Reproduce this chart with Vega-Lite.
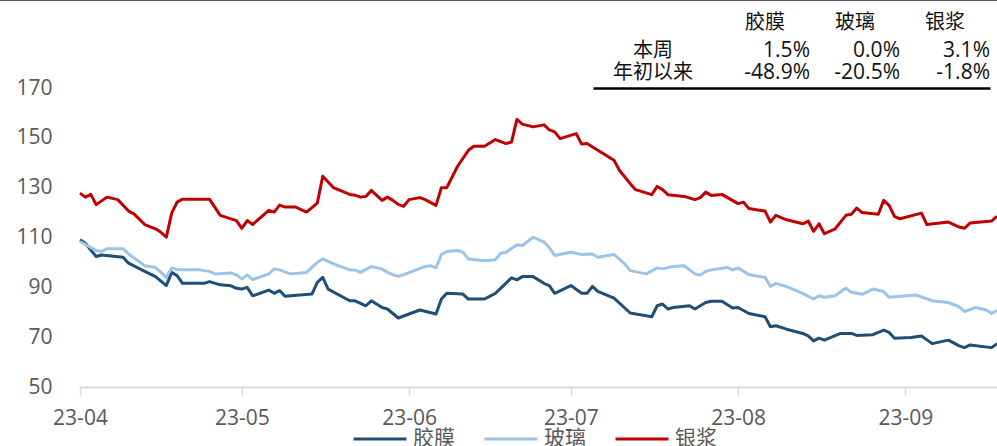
{
  "$schema": "https://vega.github.io/schema/vega-lite/v6.json",
  "width": 917,
  "height": 299,
  "autosize": {"type": "none"},
  "padding": {"left": 80, "top": 88, "right": 0, "bottom": 59},
  "background": "white",
  "config": {"view": {"stroke": null}, "font": "Open Sans, Noto Sans CJK SC"},
  "datasets": {
    "series": [
      {"d":"2023-04-01","s":"胶膜","v":109.1},{"d":"2023-04-02","s":"胶膜","v":107.7},{"d":"2023-04-03","s":"胶膜","v":105.0},{"d":"2023-04-04","s":"胶膜","v":102.4},{"d":"2023-04-05","s":"胶膜","v":103.0},{"d":"2023-04-09","s":"胶膜","v":102.1},{"d":"2023-04-10","s":"胶膜","v":99.7},{"d":"2023-04-13","s":"胶膜","v":96.4},{"d":"2023-04-15","s":"胶膜","v":94.3},{"d":"2023-04-17","s":"胶膜","v":90.7},{"d":"2023-04-18","s":"胶膜","v":96.0},{"d":"2023-04-19","s":"胶膜","v":94.7},{"d":"2023-04-20","s":"胶膜","v":91.6},{"d":"2023-04-24","s":"胶膜","v":91.6},{"d":"2023-04-25","s":"胶膜","v":92.3},{"d":"2023-04-27","s":"胶膜","v":91.0},{"d":"2023-04-29","s":"胶膜","v":90.6},{"d":"2023-04-30","s":"胶膜","v":89.6},
      {"d":"2023-05-01","s":"胶膜","v":89.3},{"d":"2023-05-02","s":"胶膜","v":90.0},{"d":"2023-05-03","s":"胶膜","v":86.6},{"d":"2023-05-06","s":"胶膜","v":88.9},{"d":"2023-05-07","s":"胶膜","v":87.6},{"d":"2023-05-08","s":"胶膜","v":88.7},{"d":"2023-05-09","s":"胶膜","v":86.4},{"d":"2023-05-14","s":"胶膜","v":87.3},{"d":"2023-05-15","s":"胶膜","v":92.0},{"d":"2023-05-16","s":"胶膜","v":94.0},{"d":"2023-05-17","s":"胶膜","v":89.3},{"d":"2023-05-21","s":"胶膜","v":84.6},{"d":"2023-05-22","s":"胶膜","v":84.6},{"d":"2023-05-24","s":"胶膜","v":82.6},{"d":"2023-05-25","s":"胶膜","v":84.6},{"d":"2023-05-27","s":"胶膜","v":81.9},{"d":"2023-05-28","s":"胶膜","v":81.3},{"d":"2023-05-29","s":"胶膜","v":79.5},{"d":"2023-05-30","s":"胶膜","v":77.7},
      {"d":"2023-06-03","s":"胶膜","v":80.9},{"d":"2023-06-06","s":"胶膜","v":79.3},{"d":"2023-06-07","s":"胶膜","v":85.3},{"d":"2023-06-08","s":"胶膜","v":87.6},{"d":"2023-06-11","s":"胶膜","v":87.3},{"d":"2023-06-12","s":"胶膜","v":85.3},{"d":"2023-06-15","s":"胶膜","v":85.3},{"d":"2023-06-17","s":"胶膜","v":87.6},{"d":"2023-06-20","s":"胶膜","v":93.8},{"d":"2023-06-21","s":"胶膜","v":93.0},{"d":"2023-06-22","s":"胶膜","v":94.3},{"d":"2023-06-24","s":"胶膜","v":94.3},{"d":"2023-06-26","s":"胶膜","v":91.6},{"d":"2023-06-27","s":"胶膜","v":90.7},{"d":"2023-06-28","s":"胶膜","v":87.6},
      {"d":"2023-07-01","s":"胶膜","v":90.7},{"d":"2023-07-03","s":"胶膜","v":87.6},{"d":"2023-07-04","s":"胶膜","v":87.6},{"d":"2023-07-05","s":"胶膜","v":90.4},{"d":"2023-07-06","s":"胶膜","v":88.4},{"d":"2023-07-09","s":"胶膜","v":85.7},{"d":"2023-07-11","s":"胶膜","v":81.7},{"d":"2023-07-12","s":"胶膜","v":79.7},{"d":"2023-07-16","s":"胶膜","v":78.2},{"d":"2023-07-17","s":"胶膜","v":82.6},{"d":"2023-07-18","s":"胶膜","v":83.3},{"d":"2023-07-19","s":"胶膜","v":81.3},{"d":"2023-07-20","s":"胶膜","v":81.9},{"d":"2023-07-23","s":"胶膜","v":82.6},{"d":"2023-07-24","s":"胶膜","v":81.3},{"d":"2023-07-25","s":"胶膜","v":82.6},{"d":"2023-07-26","s":"胶膜","v":83.9},{"d":"2023-07-27","s":"胶膜","v":84.4},{"d":"2023-07-29","s":"胶膜","v":84.4},{"d":"2023-07-31","s":"胶膜","v":81.7},
      {"d":"2023-08-01","s":"胶膜","v":81.9},{"d":"2023-08-03","s":"胶膜","v":79.5},{"d":"2023-08-06","s":"胶膜","v":78.2},{"d":"2023-08-07","s":"胶膜","v":74.2},{"d":"2023-08-08","s":"胶膜","v":74.6},{"d":"2023-08-10","s":"胶膜","v":73.2},{"d":"2023-08-13","s":"胶膜","v":71.5},{"d":"2023-08-14","s":"胶膜","v":70.5},{"d":"2023-08-15","s":"胶膜","v":68.5},{"d":"2023-08-16","s":"胶膜","v":69.6},{"d":"2023-08-17","s":"胶膜","v":68.8},{"d":"2023-08-20","s":"胶膜","v":71.5},{"d":"2023-08-22","s":"胶膜","v":71.5},{"d":"2023-08-23","s":"胶膜","v":70.7},{"d":"2023-08-26","s":"胶膜","v":71.0},{"d":"2023-08-28","s":"胶膜","v":72.8},{"d":"2023-08-29","s":"胶膜","v":71.9},{"d":"2023-08-30","s":"胶膜","v":69.6},
      {"d":"2023-09-02","s":"胶膜","v":69.9},{"d":"2023-09-04","s":"胶膜","v":70.5},{"d":"2023-09-06","s":"胶膜","v":67.4},{"d":"2023-09-09","s":"胶膜","v":68.8},{"d":"2023-09-11","s":"胶膜","v":66.5},{"d":"2023-09-12","s":"胶膜","v":65.8},{"d":"2023-09-13","s":"胶膜","v":66.9},{"d":"2023-09-17","s":"胶膜","v":65.8},{"d":"2023-09-18","s":"胶膜","v":67.4},

      {"d":"2023-04-01","s":"玻璃","v":108.4},{"d":"2023-04-02","s":"玻璃","v":107.2},{"d":"2023-04-04","s":"玻璃","v":104.8},{"d":"2023-04-05","s":"玻璃","v":104.4},{"d":"2023-04-06","s":"玻璃","v":105.5},{"d":"2023-04-09","s":"玻璃","v":105.5},{"d":"2023-04-10","s":"玻璃","v":103.4},{"d":"2023-04-13","s":"玻璃","v":98.7},{"d":"2023-04-15","s":"玻璃","v":98.0},{"d":"2023-04-17","s":"玻璃","v":94.0},{"d":"2023-04-18","s":"玻璃","v":97.8},{"d":"2023-04-19","s":"玻璃","v":97.1},{"d":"2023-04-23","s":"玻璃","v":97.1},{"d":"2023-04-24","s":"玻璃","v":96.7},{"d":"2023-04-25","s":"玻璃","v":96.4},{"d":"2023-04-26","s":"玻璃","v":95.4},{"d":"2023-04-29","s":"玻璃","v":95.8},{"d":"2023-04-30","s":"玻璃","v":95.0},
      {"d":"2023-05-01","s":"玻璃","v":93.4},{"d":"2023-05-02","s":"玻璃","v":95.0},{"d":"2023-05-03","s":"玻璃","v":93.1},{"d":"2023-05-06","s":"玻璃","v":95.4},{"d":"2023-05-07","s":"玻璃","v":97.4},{"d":"2023-05-08","s":"玻璃","v":97.0},{"d":"2023-05-10","s":"玻璃","v":95.4},{"d":"2023-05-13","s":"玻璃","v":96.0},{"d":"2023-05-15","s":"玻璃","v":100.0},{"d":"2023-05-16","s":"玻璃","v":101.4},{"d":"2023-05-18","s":"玻璃","v":99.4},{"d":"2023-05-21","s":"玻璃","v":97.0},{"d":"2023-05-22","s":"玻璃","v":97.0},{"d":"2023-05-23","s":"玻璃","v":96.0},{"d":"2023-05-25","s":"玻璃","v":98.3},{"d":"2023-05-27","s":"玻璃","v":97.4},{"d":"2023-05-28","s":"玻璃","v":96.0},{"d":"2023-05-29","s":"玻璃","v":95.1},{"d":"2023-05-30","s":"玻璃","v":94.4},{"d":"2023-05-31","s":"玻璃","v":95.1},
      {"d":"2023-06-04","s":"玻璃","v":98.4},{"d":"2023-06-05","s":"玻璃","v":98.7},{"d":"2023-06-06","s":"玻璃","v":97.8},{"d":"2023-06-07","s":"玻璃","v":103.2},{"d":"2023-06-08","s":"玻璃","v":104.4},{"d":"2023-06-10","s":"玻璃","v":104.8},{"d":"2023-06-11","s":"玻璃","v":104.1},{"d":"2023-06-12","s":"玻璃","v":101.4},{"d":"2023-06-15","s":"玻璃","v":100.7},{"d":"2023-06-17","s":"玻璃","v":101.1},{"d":"2023-06-18","s":"玻璃","v":103.7},{"d":"2023-06-19","s":"玻璃","v":104.1},{"d":"2023-06-21","s":"玻璃","v":107.1},{"d":"2023-06-22","s":"玻璃","v":106.8},{"d":"2023-06-24","s":"玻璃","v":110.1},{"d":"2023-06-26","s":"玻璃","v":108.2},{"d":"2023-06-27","s":"玻璃","v":106.0},{"d":"2023-06-28","s":"玻璃","v":102.8},
      {"d":"2023-07-01","s":"玻璃","v":104.1},{"d":"2023-07-03","s":"玻璃","v":103.2},{"d":"2023-07-05","s":"玻璃","v":103.4},{"d":"2023-07-06","s":"玻璃","v":102.1},{"d":"2023-07-09","s":"玻璃","v":103.2},{"d":"2023-07-11","s":"玻璃","v":99.4},{"d":"2023-07-12","s":"玻璃","v":96.7},{"d":"2023-07-15","s":"玻璃","v":95.4},{"d":"2023-07-17","s":"玻璃","v":97.8},{"d":"2023-07-18","s":"玻璃","v":97.4},{"d":"2023-07-20","s":"玻璃","v":98.4},{"d":"2023-07-22","s":"玻璃","v":98.7},{"d":"2023-07-24","s":"玻璃","v":95.4},{"d":"2023-07-25","s":"玻璃","v":94.9},{"d":"2023-07-26","s":"玻璃","v":96.4},{"d":"2023-07-27","s":"玻璃","v":97.0},{"d":"2023-07-30","s":"玻璃","v":98.0},{"d":"2023-07-31","s":"玻璃","v":97.0},
      {"d":"2023-08-01","s":"玻璃","v":97.8},{"d":"2023-08-03","s":"玻璃","v":95.1},{"d":"2023-08-06","s":"玻璃","v":94.0},{"d":"2023-08-07","s":"玻璃","v":90.3},{"d":"2023-08-08","s":"玻璃","v":91.6},{"d":"2023-08-10","s":"玻璃","v":90.3},{"d":"2023-08-13","s":"玻璃","v":87.6},{"d":"2023-08-15","s":"玻璃","v":85.3},{"d":"2023-08-16","s":"玻璃","v":86.6},{"d":"2023-08-17","s":"玻璃","v":86.0},{"d":"2023-08-19","s":"玻璃","v":86.6},{"d":"2023-08-21","s":"玻璃","v":89.7},{"d":"2023-08-22","s":"玻璃","v":88.0},{"d":"2023-08-24","s":"玻璃","v":87.2},{"d":"2023-08-26","s":"玻璃","v":89.3},{"d":"2023-08-28","s":"玻璃","v":88.3},{"d":"2023-08-29","s":"玻璃","v":86.0},
      {"d":"2023-09-03","s":"玻璃","v":86.9},{"d":"2023-09-06","s":"玻璃","v":84.6},{"d":"2023-09-09","s":"玻璃","v":83.9},{"d":"2023-09-11","s":"玻璃","v":82.2},{"d":"2023-09-12","s":"玻璃","v":80.3},{"d":"2023-09-14","s":"玻璃","v":81.9},{"d":"2023-09-16","s":"玻璃","v":80.9},{"d":"2023-09-17","s":"玻璃","v":79.5},{"d":"2023-09-18","s":"玻璃","v":80.8},

      {"d":"2023-04-01","s":"银浆","v":127.8},{"d":"2023-04-02","s":"银浆","v":126.2},{"d":"2023-04-03","s":"银浆","v":127.3},{"d":"2023-04-04","s":"银浆","v":123.2},{"d":"2023-04-06","s":"银浆","v":126.2},{"d":"2023-04-08","s":"银浆","v":125.2},{"d":"2023-04-10","s":"银浆","v":120.6},{"d":"2023-04-11","s":"银浆","v":119.5},{"d":"2023-04-13","s":"银浆","v":115.2},{"d":"2023-04-15","s":"银浆","v":113.5},{"d":"2023-04-16","s":"银浆","v":112.1},{"d":"2023-04-17","s":"银浆","v":110.1},{"d":"2023-04-18","s":"银浆","v":119.8},{"d":"2023-04-19","s":"银浆","v":124.2},{"d":"2023-04-20","s":"银浆","v":125.4},{"d":"2023-04-25","s":"银浆","v":125.4},{"d":"2023-04-27","s":"银浆","v":118.9},{"d":"2023-04-29","s":"银浆","v":117.5},{"d":"2023-04-30","s":"银浆","v":116.8},
      {"d":"2023-05-01","s":"银浆","v":113.7},{"d":"2023-05-02","s":"银浆","v":116.8},{"d":"2023-05-03","s":"银浆","v":115.2},{"d":"2023-05-06","s":"银浆","v":120.9},{"d":"2023-05-07","s":"银浆","v":120.2},{"d":"2023-05-08","s":"银浆","v":123.0},{"d":"2023-05-09","s":"银浆","v":122.2},{"d":"2023-05-11","s":"银浆","v":122.2},{"d":"2023-05-13","s":"银浆","v":120.2},{"d":"2023-05-15","s":"银浆","v":123.8},{"d":"2023-05-16","s":"银浆","v":134.6},{"d":"2023-05-18","s":"银浆","v":130.0},{"d":"2023-05-21","s":"银浆","v":127.3},{"d":"2023-05-22","s":"银浆","v":127.0},{"d":"2023-05-23","s":"银浆","v":126.2},{"d":"2023-05-24","s":"银浆","v":126.5},{"d":"2023-05-25","s":"银浆","v":128.9},{"d":"2023-05-27","s":"银浆","v":124.9},{"d":"2023-05-28","s":"银浆","v":126.2},{"d":"2023-05-29","s":"银浆","v":124.9},{"d":"2023-05-30","s":"银浆","v":123.3},{"d":"2023-05-31","s":"银浆","v":122.5},
      {"d":"2023-06-01","s":"银浆","v":125.2},{"d":"2023-06-03","s":"银浆","v":126.0},{"d":"2023-06-04","s":"银浆","v":125.2},{"d":"2023-06-06","s":"银浆","v":122.9},{"d":"2023-06-07","s":"银浆","v":130.0},{"d":"2023-06-08","s":"银浆","v":130.0},{"d":"2023-06-10","s":"银浆","v":138.6},{"d":"2023-06-12","s":"银浆","v":145.0},{"d":"2023-06-13","s":"银浆","v":146.6},{"d":"2023-06-15","s":"银浆","v":146.6},{"d":"2023-06-17","s":"银浆","v":149.3},{"d":"2023-06-19","s":"银浆","v":147.7},{"d":"2023-06-20","s":"银浆","v":148.3},{"d":"2023-06-21","s":"银浆","v":157.4},{"d":"2023-06-22","s":"银浆","v":155.5},{"d":"2023-06-24","s":"银浆","v":154.4},{"d":"2023-06-26","s":"银浆","v":155.2},{"d":"2023-06-27","s":"银浆","v":153.2},{"d":"2023-06-28","s":"银浆","v":152.4},{"d":"2023-06-29","s":"银浆","v":149.7},
      {"d":"2023-07-02","s":"银浆","v":151.7},{"d":"2023-07-03","s":"银浆","v":147.5},{"d":"2023-07-04","s":"银浆","v":147.7},{"d":"2023-07-06","s":"银浆","v":145.0},{"d":"2023-07-09","s":"银浆","v":141.0},{"d":"2023-07-10","s":"银浆","v":137.0},{"d":"2023-07-12","s":"银浆","v":131.6},{"d":"2023-07-13","s":"银浆","v":129.2},{"d":"2023-07-16","s":"银浆","v":127.2},{"d":"2023-07-17","s":"银浆","v":130.5},{"d":"2023-07-18","s":"银浆","v":129.2},{"d":"2023-07-19","s":"银浆","v":127.2},{"d":"2023-07-22","s":"银浆","v":126.5},{"d":"2023-07-24","s":"银浆","v":125.2},{"d":"2023-07-25","s":"银浆","v":126.0},{"d":"2023-07-26","s":"银浆","v":128.2},{"d":"2023-07-27","s":"银浆","v":126.9},{"d":"2023-07-29","s":"银浆","v":127.3},
      {"d":"2023-08-01","s":"银浆","v":123.6},{"d":"2023-08-02","s":"银浆","v":124.2},{"d":"2023-08-03","s":"银浆","v":121.6},{"d":"2023-08-06","s":"银浆","v":120.6},{"d":"2023-08-07","s":"银浆","v":116.2},{"d":"2023-08-08","s":"银浆","v":118.9},{"d":"2023-08-10","s":"银浆","v":117.1},{"d":"2023-08-13","s":"银浆","v":115.5},{"d":"2023-08-14","s":"银浆","v":116.6},{"d":"2023-08-15","s":"银浆","v":112.5},{"d":"2023-08-16","s":"银浆","v":115.5},{"d":"2023-08-17","s":"银浆","v":111.5},{"d":"2023-08-19","s":"银浆","v":113.5},{"d":"2023-08-21","s":"银浆","v":118.9},{"d":"2023-08-22","s":"银浆","v":119.3},{"d":"2023-08-23","s":"银浆","v":121.8},{"d":"2023-08-24","s":"银浆","v":120.0},{"d":"2023-08-27","s":"银浆","v":119.3},{"d":"2023-08-28","s":"银浆","v":124.9},{"d":"2023-08-29","s":"银浆","v":122.9},{"d":"2023-08-30","s":"银浆","v":118.5},{"d":"2023-08-31","s":"银浆","v":117.5},
      {"d":"2023-09-04","s":"银浆","v":119.8},{"d":"2023-09-05","s":"银浆","v":115.2},{"d":"2023-09-09","s":"银浆","v":116.2},{"d":"2023-09-11","s":"银浆","v":114.2},{"d":"2023-09-12","s":"银浆","v":113.7},{"d":"2023-09-13","s":"银浆","v":115.8},{"d":"2023-09-17","s":"银浆","v":116.6},{"d":"2023-09-18","s":"银浆","v":118.5}
    ],
    "hdr": [
      {"r":"header","c":"胶膜","t":"胶膜"},{"r":"header","c":"玻璃","t":"玻璃"},{"r":"header","c":"银浆","t":"银浆"}
    ],
    "vals": [
      {"r":"本周","c":"胶膜","t":"1.5%"},{"r":"本周","c":"玻璃","t":"0.0%"},{"r":"本周","c":"银浆","t":"3.1%"},
      {"r":"年初以来","c":"胶膜","t":"-48.9%"},{"r":"年初以来","c":"玻璃","t":"-20.5%"},{"r":"年初以来","c":"银浆","t":"-1.8%"}
    ],
    "lbls": [
      {"r":"本周","c":"lbl","t":"本周"},{"r":"年初以来","c":"lbl","t":"年初以来"}
    ]
  },
  "layer": [
    {
      "layer": [
        {
          "data": {"name": "series"},
          "mark": {"type": "line", "strokeWidth": 3, "strokeJoin": "round"},
          "encoding": {
            "x": {
              "field": "d", "type": "temporal",
              "scale": {"type": "utc", "nice": false, "domain": [{"year": 2023, "month": 4, "date": 1, "utc": true}, {"year": 2023, "month": 9, "date": 18, "utc": true}]},
              "axis": {
                "orient": "bottom", "title": null, "grid": false,
                "values": [
                  {"year": 2023, "month": 4, "date": 1, "utc": true},
                  {"year": 2023, "month": 5, "date": 1, "utc": true},
                  {"year": 2023, "month": 6, "date": 1, "utc": true},
                  {"year": 2023, "month": 7, "date": 1, "utc": true},
                  {"year": 2023, "month": 8, "date": 1, "utc": true},
                  {"year": 2023, "month": 9, "date": 1, "utc": true}
                ],
                "labelExpr": "utcFormat(datum.value, '%y-%m')",
                "labelFlush": false, "labelOverlap": false,
                "domainColor": "#D9D9D9", "domainWidth": 2,
                "tickColor": "#D9D9D9", "tickWidth": 1.5, "tickSize": 8,
                "labelFontSize": 21, "labelColor": "#595959", "labelPadding": 12
              }
            },
            "y": {
              "field": "v", "type": "quantitative",
              "scale": {"domain": [50, 170], "nice": false, "zero": false},
              "axis": {
                "orient": "left", "title": null, "grid": false, "domain": false, "ticks": false,
                "values": [50, 70, 90, 110, 130, 150, 170],
                "labelFontSize": 21, "labelColor": "#595959", "labelPadding": 28
              }
            },
            "color": {
              "field": "s", "type": "nominal",
              "scale": {"domain": ["胶膜", "玻璃", "银浆"], "range": ["#1F4E79", "#9DC3E6", "#C00000"]},
              "legend": {
                "orient": "none", "legendX": 272, "legendY": 323, "direction": "horizontal", "title": null,
                "symbolType": "stroke", "symbolSize": 2809, "symbolStrokeWidth": 3,
                "labelFontSize": 21, "labelColor": "#595959", "labelOffset": 5, "columnPadding": 23
              }
            }
          }
        },
        {
          "data": {"values": [{"edge": "top"}]},
          "mark": {"type": "rule", "color": "#595959", "strokeWidth": 1.5, "clip": false},
          "encoding": {
            "x": {"datum": {"year": 2023, "month": 3, "date": 16, "utc": true}, "type": "temporal"},
            "x2": {"datum": {"year": 2023, "month": 9, "date": 18, "utc": true}},
            "y": {"datum": 205.2, "type": "quantitative"}
          }
        }
      ]
    },
    {
      "layer": [
        {
          "data": {"name": "hdr"},
          "mark": {"type": "text", "fontSize": 20, "align": "center", "baseline": "middle", "dy": -6, "color": "#111111"},
          "encoding": {
            "x": {"field": "c", "type": "nominal", "bandPosition": 0.5,
              "scale": {"type": "band", "domain": ["lbl", "胶膜", "玻璃", "银浆"], "range": [513, 910], "paddingInner": 0, "paddingOuter": 0.2056, "align": 1},
              "axis": {"orient": "top", "title": null, "labels": false, "ticks": false, "grid": false, "domainColor": "#000000", "domainWidth": 2.5}},
            "y": {"field": "r", "type": "nominal",
              "scale": {"type": "point", "domain": ["header", "本周", "年初以来"], "range": [-59, -15.5], "padding": 0},
              "axis": null},
            "text": {"field": "t"}
          }
        },
        {
          "data": {"name": "vals"},
          "mark": {"type": "text", "fontSize": 21, "align": "right", "baseline": "middle", "color": "#111111"},
          "encoding": {
            "x": {"field": "c", "type": "nominal", "bandPosition": 1,
              "scale": {"type": "band", "domain": ["lbl", "胶膜", "玻璃", "银浆"], "range": [513, 910], "paddingInner": 0, "paddingOuter": 0.2056, "align": 1},
              "axis": {"orient": "top", "title": null, "labels": false, "ticks": false, "grid": false, "domainColor": "#000000", "domainWidth": 2.5}},
            "y": {"field": "r", "type": "nominal",
              "scale": {"type": "point", "domain": ["header", "本周", "年初以来"], "range": [-59, -15.5], "padding": 0},
              "axis": null},
            "text": {"field": "t"}
          }
        },
        {
          "data": {"name": "lbls"},
          "mark": {"type": "text", "fontSize": 20, "align": "center", "baseline": "middle", "dx": -22, "color": "#111111"},
          "encoding": {
            "x": {"field": "c", "type": "nominal", "bandPosition": 0.5,
              "scale": {"type": "band", "domain": ["lbl", "胶膜", "玻璃", "银浆"], "range": [513, 910], "paddingInner": 0, "paddingOuter": 0.2056, "align": 1},
              "axis": {"orient": "top", "title": null, "labels": false, "ticks": false, "grid": false, "domainColor": "#000000", "domainWidth": 2.5}},
            "y": {"field": "r", "type": "nominal",
              "scale": {"type": "point", "domain": ["header", "本周", "年初以来"], "range": [-59, -15.5], "padding": 0},
              "axis": null},
            "text": {"field": "t"}
          }
        }
      ]
    }
  ],
  "resolve": {"scale": {"x": "independent", "y": "independent"}, "axis": {"x": "independent", "y": "independent"}}
}
